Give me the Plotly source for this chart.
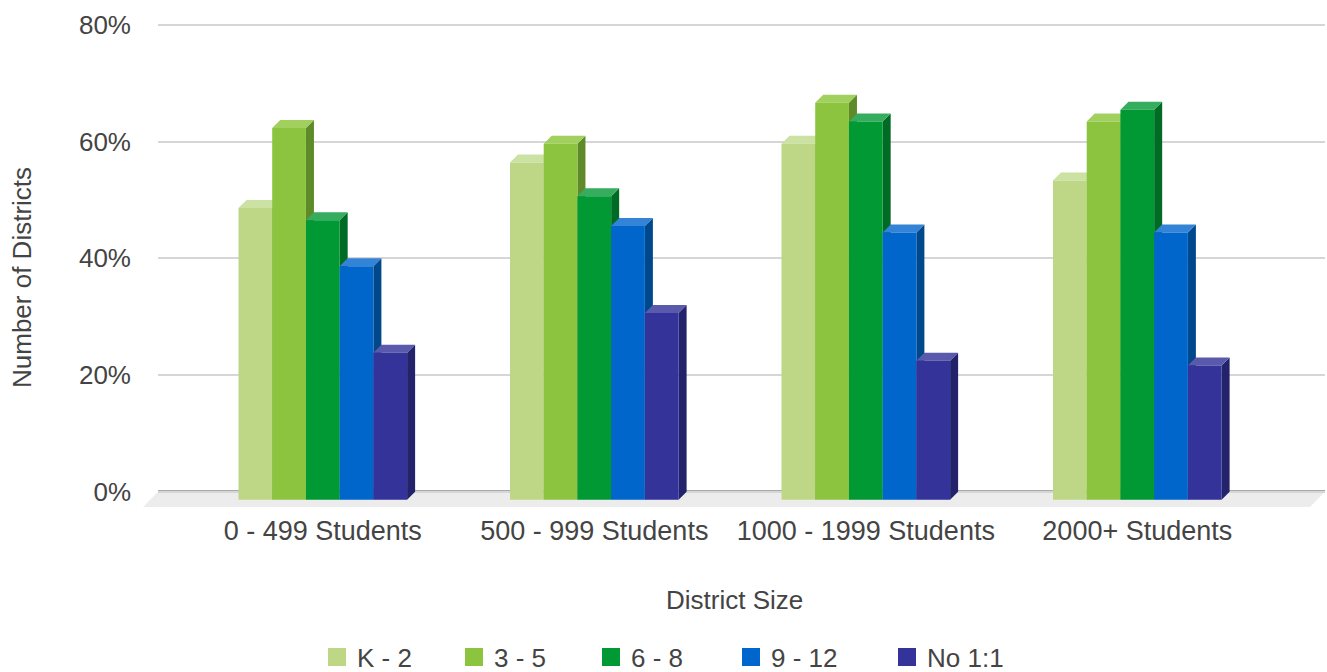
import plotly.graph_objects as go

# ---------------- data ----------------
categories = ["0 - 499 Students", "500 - 999 Students", "1000 - 1999 Students", "2000+ Students"]
series_names = ["K - 2", "3 - 5", "6 - 8", "9 - 12", "No 1:1"]
k_2 = [50.0, 57.8, 61.0, 54.7]
g3_5 = [63.7, 61.0, 68.0, 64.8]
g6_8 = [47.9, 52.0, 64.8, 66.8]
g9_12 = [40.0, 46.9, 45.8, 45.8]
no_1to1 = [25.2, 32.0, 23.8, 23.0]
y_tick_vals = [0, 20, 40, 60, 80]
y_tick_text = ["0%", "20%", "40%", "60%", "80%"]
x_title = "District Size"
y_title = "Number of Districts"

series_values = [k_2, g3_5, g6_8, g9_12, no_1to1]

# ---------------- styles ----------------
front_colors = ["#bdd786", "#8cc43f", "#009933", "#0066cc", "#333399"]
top_colors = ["#cbe2a2", "#a1d05e", "#36ad5e", "#3383d6", "#5a5aad"]
side_colors = ["#8fa864", "#5f8a29", "#006b24", "#00488c", "#23236b"]
FONT = "Arial, 'Liberation Sans', sans-serif"
TEXT_COLOR = "#444444"

BAR_W = 0.1242          # width of one bar (category units)
DX = 0.0295             # 3D depth offset in x (category units)
DY = 1.37               # 3D depth offset in y (percent units)
n_series = len(series_names)
group_w = BAR_W * n_series

fig = go.Figure()

for i, (name, vals) in enumerate(zip(series_names, series_values)):
    fx, fy, sx, sy, tx, ty = [], [], [], [], [], []
    for g, v in enumerate(vals):
        xl = g - group_w / 2 + i * BAR_W
        xr = xl + BAR_W
        # front face
        fx += [xl, xr, xr, xl, xl, None]
        fy += [-DY, -DY, v - DY, v - DY, -DY, None]
        # right side face
        sx += [xr, xr + DX, xr + DX, xr, xr, None]
        sy += [-DY, 0, v, v - DY, -DY, None]
        # top face
        tx += [xl, xr, xr + DX, xl + DX, xl, None]
        ty += [v - DY, v - DY, v, v, v - DY, None]
    common = dict(mode="lines", fill="toself", line=dict(width=0), showlegend=False,
                  hoverinfo="skip")
    fig.add_trace(go.Scatter(x=sx, y=sy, fillcolor=side_colors[i], **common))
    fig.add_trace(go.Scatter(x=tx, y=ty, fillcolor=top_colors[i], **common))
    fig.add_trace(go.Scatter(x=fx, y=fy, fillcolor=front_colors[i], **common))

# legend-only entries
legend_widths = [92, 92, 95, 111, 80]
for i, name in enumerate(series_names):
    fig.add_trace(go.Scatter(
        x=[None], y=[None], mode="markers", name=name,
        marker=dict(symbol="square", size=16, color=front_colors[i],
                    line=dict(width=2, color=front_colors[i])),
        legendwidth=legend_widths[i],
    ))

W, H = 1327, 672
L, R, T, B = 158, 2, 12, 165
plot_w = W - L - R

def px_to_paper_x(px):
    return (px - L) / plot_w

def py_to_paper_y(py):
    return (H - B - py) / (H - T - B)

Y_MIN, Y_MAX = -2.62, 82.2

shapes = [
    # floor
    dict(type="path", xref="paper", yref="y", layer="between",
         path=f"M{px_to_paper_x(143)},{Y_MIN} L{px_to_paper_x(158)},0 L{px_to_paper_x(1325)},0 "
              f"L{px_to_paper_x(1310)},{Y_MIN} Z",
         fillcolor="#ececec", line=dict(width=0)),
    # baseline
    dict(type="line", xref="paper", yref="y", layer="between",
         x0=0, x1=1, y0=0, y1=0, line=dict(color="#555555", width=2.5)),
]

fig.update_layout(
    width=W, height=H,
    margin=dict(l=L, r=R, t=T, b=B, pad=0, autoexpand=False),
    paper_bgcolor="white", plot_bgcolor="white",
    font=dict(family=FONT, size=26, color=TEXT_COLOR),
    shapes=shapes,
    showlegend=True,
    legend=dict(orientation="h", x=px_to_paper_x(317), xanchor="left",
                y=py_to_paper_y(657), yanchor="middle",
                font=dict(size=26, color=TEXT_COLOR), bgcolor="rgba(0,0,0,0)"),
    xaxis=dict(range=[(158 - 322.8) / 271.5, (1325 - 322.8) / 271.5],
               tickvals=list(range(len(categories))), ticktext=categories,
               showgrid=False, zeroline=False, showline=False, ticks="",
               tickfont=dict(size=27, color=TEXT_COLOR), ticklabelstandoff=5,
               automargin=False, fixedrange=True),
    yaxis=dict(range=[Y_MIN, Y_MAX], tickvals=y_tick_vals, ticktext=y_tick_text,
               showgrid=True, gridcolor="#d6d6d6", gridwidth=2, zeroline=False,
               showline=False, ticks="", tickfont=dict(size=26, color=TEXT_COLOR),
               ticklabelstandoff=26, automargin=False, fixedrange=True),
    annotations=[
        dict(text=y_title, xref="paper", yref="paper", x=px_to_paper_x(22), y=py_to_paper_y(278),
             xanchor="center", yanchor="middle", textangle=-90, showarrow=False,
             font=dict(size=26, color=TEXT_COLOR)),
        dict(text=x_title, xref="paper", yref="paper", x=px_to_paper_x(734), y=py_to_paper_y(600),
             xanchor="center", yanchor="middle", showarrow=False,
             font=dict(size=26, color=TEXT_COLOR)),
    ],
)

fig.write_html("out.html")
